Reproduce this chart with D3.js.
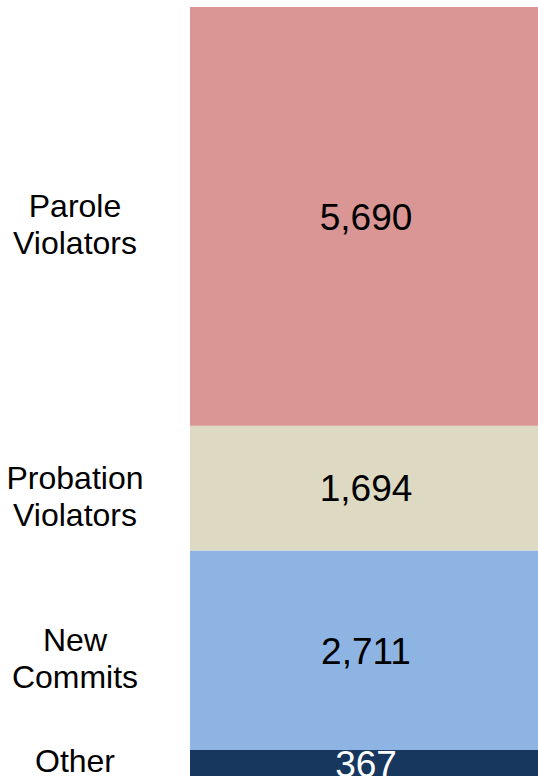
<!DOCTYPE html>
<html>
<head>
<meta charset="utf-8">
<script src="https://cdn.jsdelivr.net/npm/d3@7"></script>
<style>
  html, body { margin: 0; padding: 0; background: #fff; overflow: hidden; }
  svg { display: block; font-family: "Liberation Sans", Arial, sans-serif; }
</style>
</head>
<body>
<div id="chart"></div>
<script>
// admissions by type, bottom to top
const categories = ["Other", "New Commits", "Probation Violators", "Parole Violators"];
const labelLines = [["Other"], ["New", "Commits"], ["Probation", "Violators"], ["Parole", "Violators"]];
const values = [367, 2711, 1694, 5690];
const colors = ["#17375e", "#8eb4e3", "#ddd9c3", "#d99694"];
const textColors = ["#fff", "#000", "#000", "#000"];

const width = 538, height = 776;
const barLeft = 190, barRight = 542;
const barTop = 7, barBottom = 777;

const total = d3.sum(values);
let acc = 0;
const stacked = values.map((v, i) => {
    const d = { name: categories[i], lines: labelLines[i], value: v, y0: acc, y1: acc + v, i };
    acc += v;
    return d;
});

const y = d3.scaleLinear()
    .domain([0, total])
    .range([barBottom, barTop]);

const fmt = d3.format(",");

const svg = d3.select("#chart")
    .append("svg")
    .attr("width", width)
    .attr("height", height);

// bar segments
svg.selectAll("rect.seg")
    .data(stacked)
    .join("rect")
    .attr("class", "seg")
    .attr("x", barLeft)
    .attr("width", barRight - barLeft)
    .attr("y", d => y(d.y1))
    .attr("height", d => y(d.y0) - y(d.y1))
    .attr("fill", d => colors[d.i]);

// values inside bar
svg.selectAll("text.val")
    .data(stacked)
    .join("text")
    .attr("class", "val")
    .attr("x", (barLeft + barRight) / 2)
    .attr("y", d => (y(d.y0) + y(d.y1)) / 2)
    .attr("dy", "0.36em")
    .attr("text-anchor", "middle")
    .style("font-size", "37px")
    .style("fill", d => textColors[d.i])
    .text(d => fmt(d.value));

// category labels on the left
const lineH = 37;
const labels = svg.selectAll("text.cat")
    .data(stacked)
    .join("text")
    .attr("class", "cat")
    .attr("text-anchor", "middle")
    .style("font-size", "32px")
    .style("fill", "#000")
    .attr("transform", d => {
        const mid = (y(d.y0) + y(d.y1)) / 2;
        const shift = d.lines.length > 1 ? 8 : -3;
        return `translate(75,${mid + shift})`;
    });

labels.selectAll("tspan")
    .data(d => d.lines.map((t, k) => ({ t, k, n: d.lines.length })))
    .join("tspan")
    .attr("x", 0)
    .attr("y", d => (d.k - (d.n - 1) / 2) * lineH)
    .attr("dy", "0.36em")
    .text(d => d.t);
</script>
</body>
</html>
